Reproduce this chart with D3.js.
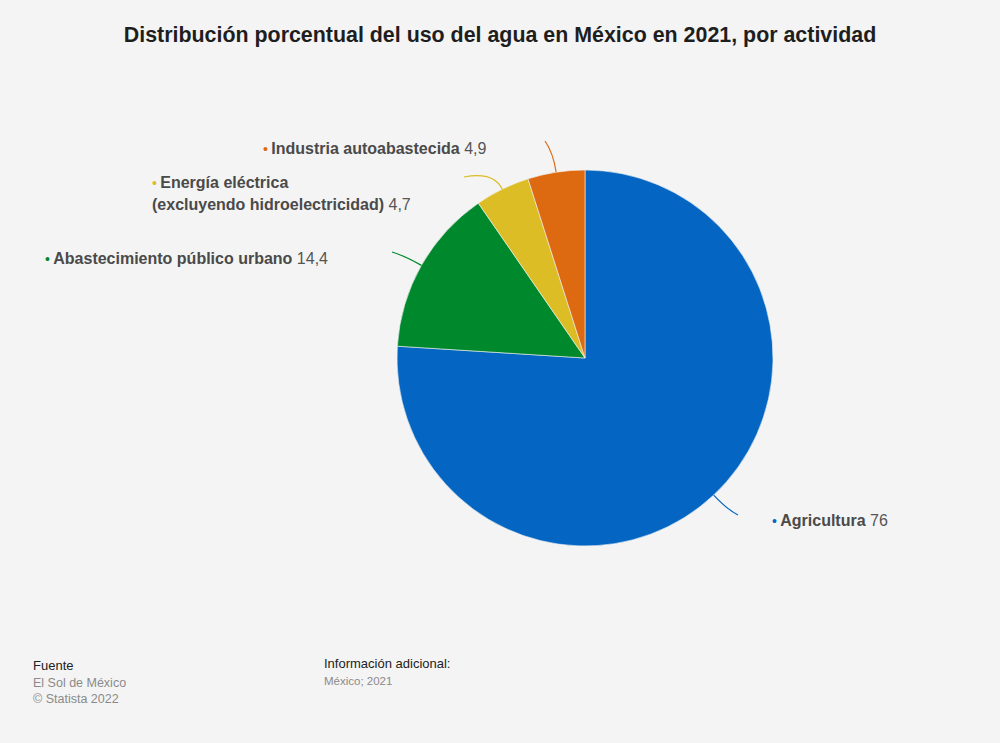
<!DOCTYPE html>
<html>
<head>
<meta charset="utf-8">
<script src="https://cdn.jsdelivr.net/npm/d3@7"></script>
<style>
	body { margin: 0; background: #f4f4f4; }
	svg { display: block; font-family: "Liberation Sans", Arial, sans-serif; }
</style>
</head>
<body>
<div id="chart"></div>
<script>
const categories = ["Agricultura", "Abastecimiento público urbano", "Energía eléctrica\n(excluyendo hidroelectricidad)", "Industria autoabastecida"];
const values = [76, 14.4, 4.7, 4.9];
const colors = ["#0466c2", "#00882d", "#dcbd26", "#dd6a10"];

const width = 1000, height = 743;
const cx = 585, cy = 358, r = 188;

// where each label's connector ends (layout only)
const labelEnds = [[738, 515], [392, 252], [464, 177], [545, 141]];
const labelPos = [[772, 520], [45, 258], [152, 182], [263, 148]];

const fmt = v => String(v).replace(".", ",");

const svg = d3.select("#chart").append("svg")
	.attr("width", width)
	.attr("height", height);

svg.append("rect").attr("width", width).attr("height", height).attr("fill", "#f4f4f4");

// title
svg.append("text")
	.attr("x", 500).attr("y", 42)
	.attr("text-anchor", "middle")
	.attr("font-size", 21.4).attr("font-weight", "bold")
	.attr("fill", "#1e1e1e")
	.text("Distribución porcentual del uso del agua en México en 2021, por actividad");

const data = categories.map((c, i) => ({name: c, value: values[i], color: colors[i], i: i}));

const pie = d3.pie().sort(null).value(d => d.value);
const arc = d3.arc().innerRadius(0).outerRadius(r);
const arcs = pie(data);

const g = svg.append("g").attr("transform", "translate(" + cx + "," + cy + ")");

g.selectAll("path.slice")
	.data(arcs)
	.enter().append("path")
	.attr("class", "slice")
	.attr("d", arc)
	.attr("fill", d => d.data.color)
	.attr("stroke", "#f4f4f4")
	.attr("stroke-width", 0.6);

// connectors
g.selectAll("path.conn")
	.data(arcs)
	.enter().append("path")
	.attr("class", "conn")
	.attr("fill", "none")
	.attr("stroke", d => d.data.color)
	.attr("stroke-width", 1.2)
	.attr("d", d => {
		const a = (d.startAngle + d.endAngle) / 2;
		const p = d3.path();
		p.moveTo(r * Math.sin(a), -r * Math.cos(a));
		const rc = r + 20;
		const end = labelEnds[d.data.i];
		p.quadraticCurveTo(rc * Math.sin(a), -rc * Math.cos(a), end[0] - cx, end[1] - cy);
		return p.toString();
	});

// labels
data.forEach((d, i) => {
	const lines = d.name.split("\n");
	const t = svg.append("text")
		.attr("x", labelPos[i][0]).attr("y", labelPos[i][1] + 6)
		.attr("font-size", 16)
		.attr("fill", "#4a4a4a");
	lines.forEach((line, k) => {
		const ts = t.append("tspan")
			.attr("x", labelPos[i][0])
			.attr("dy", k === 0 ? 0 : 21.5);
		if (k === 0) {
			ts.append("tspan").attr("fill", d.color).attr("font-size", 14).text("•");
			ts.append("tspan").attr("font-size", 12).text(" ");
		}
		ts.append("tspan").attr("font-weight", "bold").text(line);
		if (k === lines.length - 1) {
			ts.append("tspan").attr("fill", "#555").text(" " + fmt(d.value));
		}
	});
});

// footer
const foot = svg.append("g").attr("font-size", 12.5);
foot.append("text").attr("x", 33).attr("y", 670).attr("fill", "#222").attr("font-size", 13).text("Fuente");
foot.append("text").attr("x", 33).attr("y", 687).attr("fill", "#8a8a8a").text("El Sol de México");
foot.append("text").attr("x", 33).attr("y", 703).attr("fill", "#8a8a8a").text("© Statista 2022");
foot.append("text").attr("x", 324).attr("y", 668).attr("fill", "#222").attr("font-size", 13).text("Información adicional:");
foot.append("text").attr("x", 324).attr("y", 685).attr("fill", "#8a8a8a").attr("font-size", 11.5).text("México; 2021");
</script>
</body>
</html>
